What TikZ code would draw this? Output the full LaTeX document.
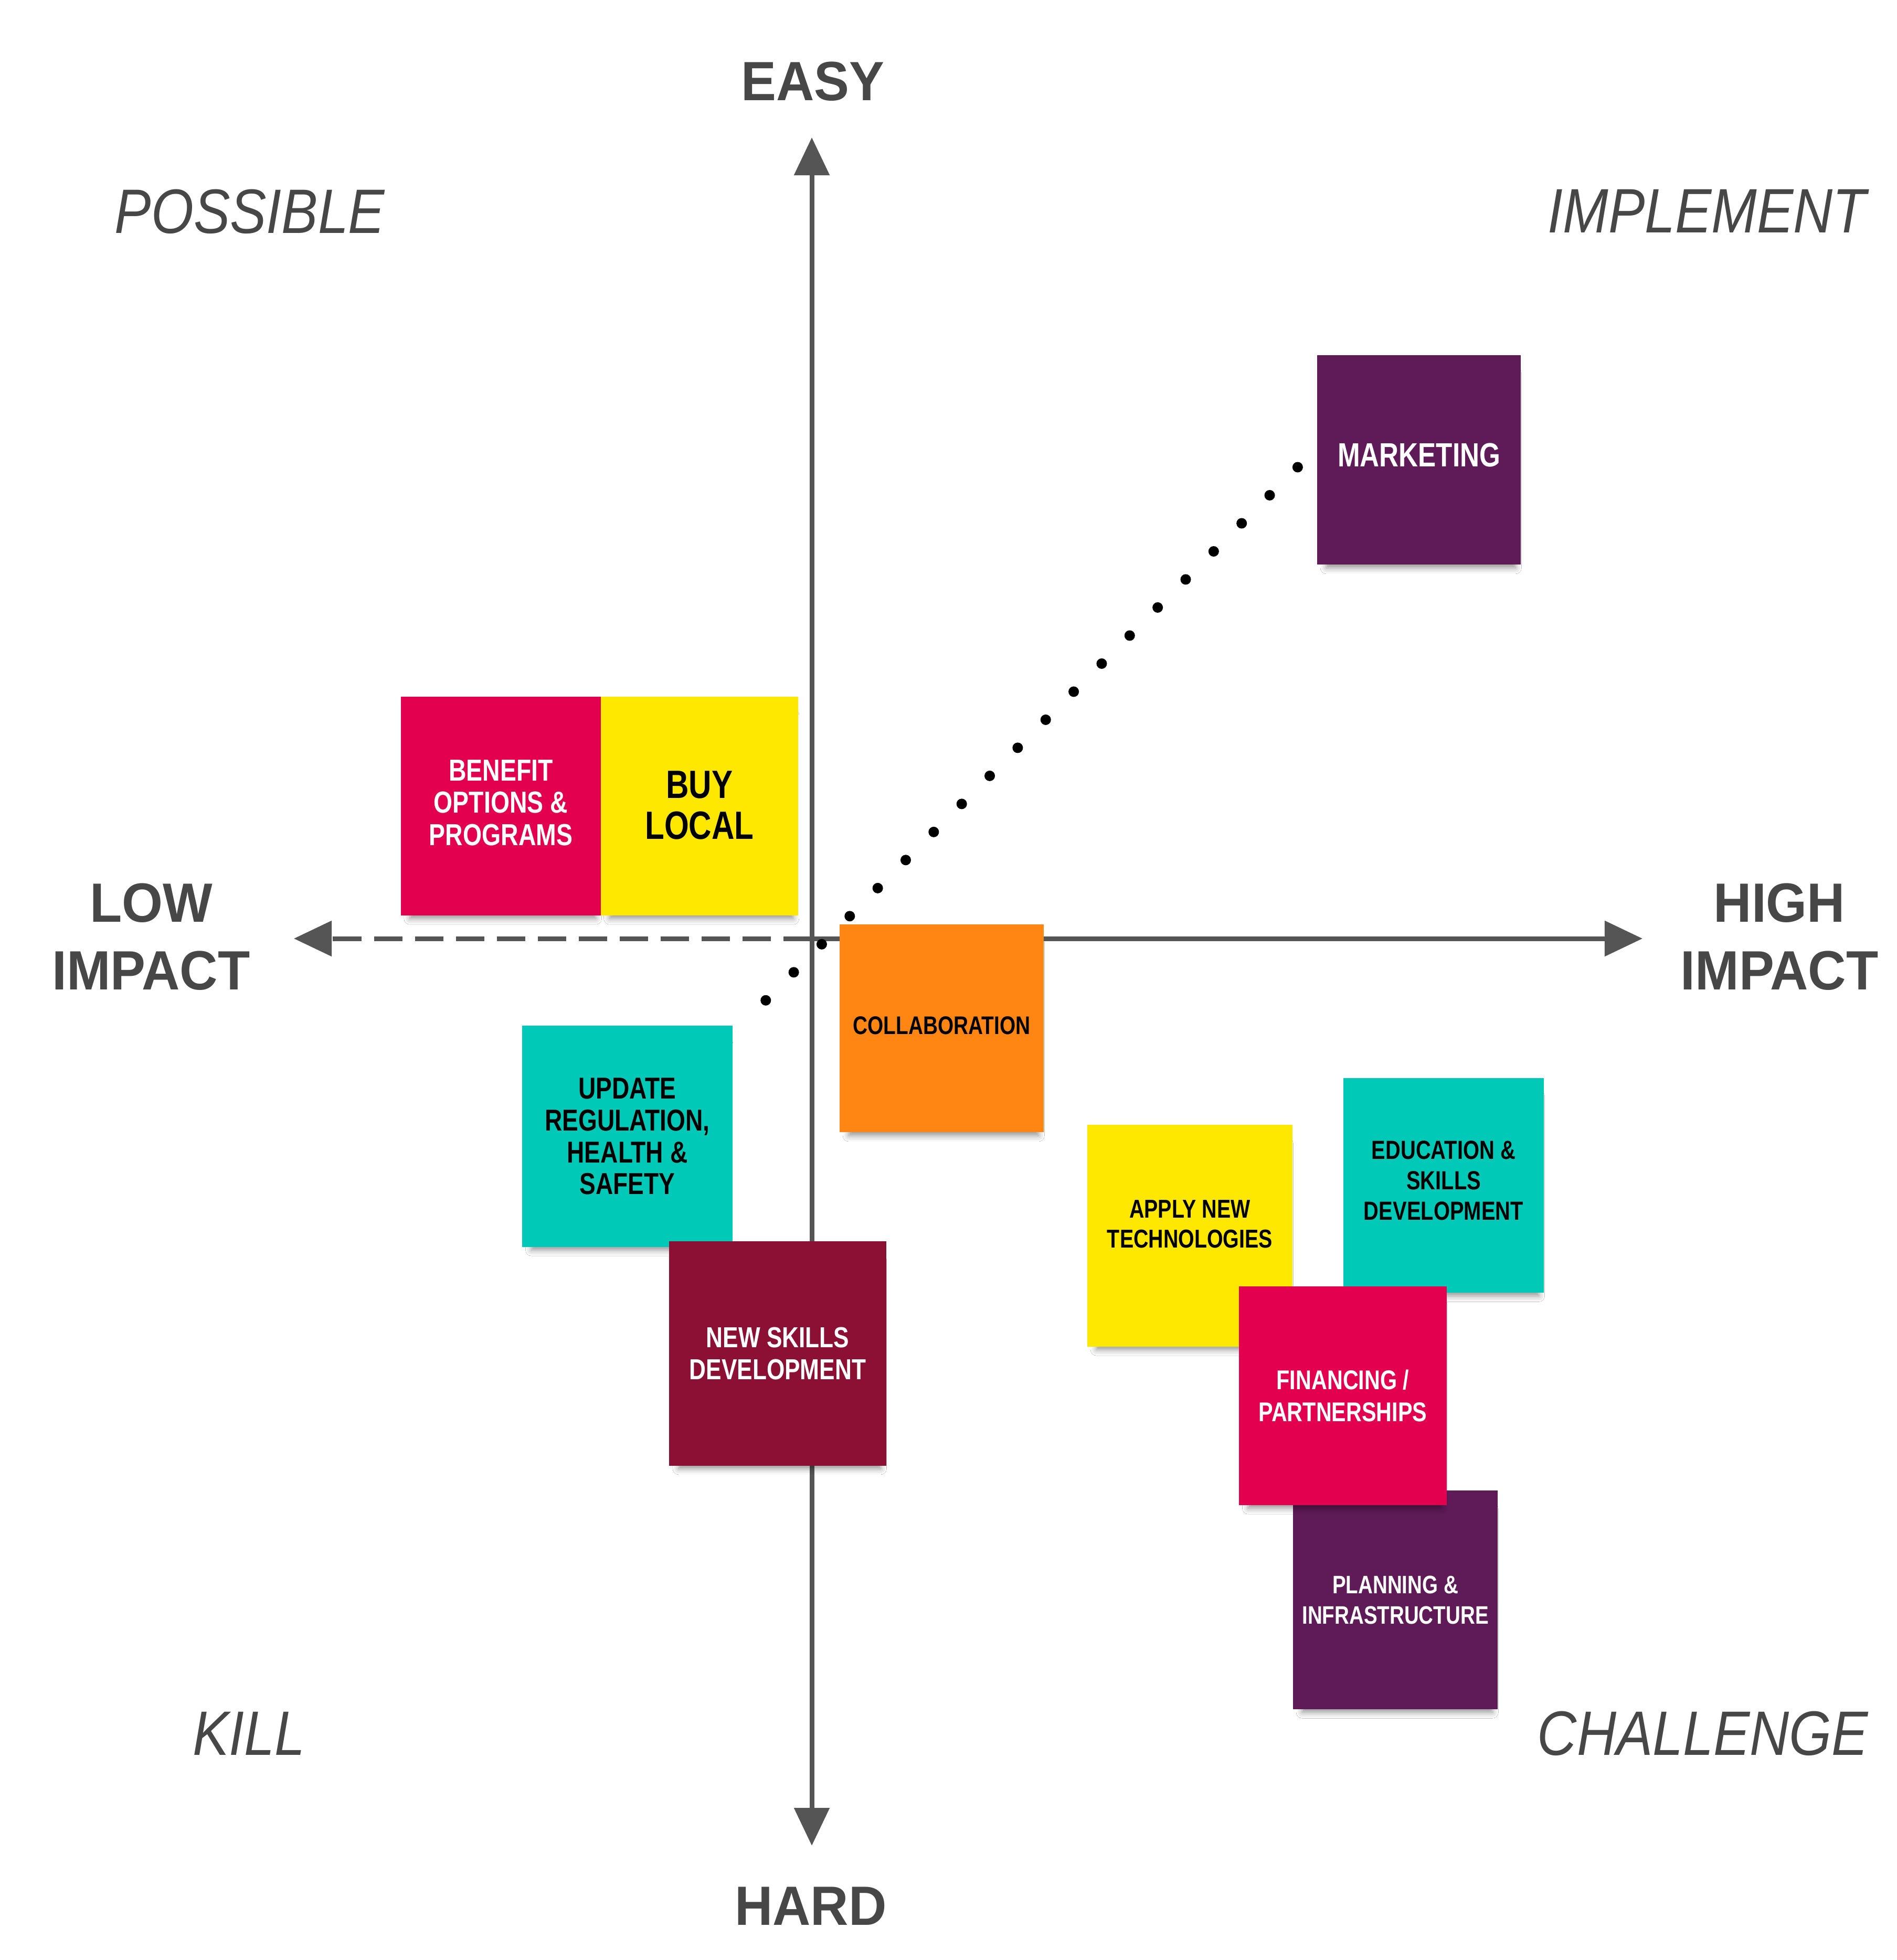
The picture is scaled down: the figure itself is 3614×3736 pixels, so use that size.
\documentclass[tikz,border=0pt]{standalone}
\usepackage{fontspec}
\setmainfont{Liberation Sans}
\newfontfamily\notefont[FakeStretch=0.8]{Liberation Sans}
\newfontfamily\axisfont[FakeStretch=0.95]{Liberation Sans}
\newfontfamily\zonefont[FakeStretch=0.87]{Liberation Sans}
\usetikzlibrary{arrows.meta,shadows.blur}
\definecolor{axisgray}{HTML}{555555}
\definecolor{labelgray}{HTML}{474747}
\definecolor{notepurple}{HTML}{5F1B58}
\definecolor{notered}{HTML}{E3004F}
\definecolor{noteyellow}{HTML}{FFE800}
\definecolor{noteorange}{HTML}{FF8613}
\definecolor{noteteal}{HTML}{00C9B7}
\definecolor{notemaroon}{HTML}{8B1034}

\begin{document}
\begin{tikzpicture}[x=0.01cm,y=-0.01cm,
    axis/.style={line width=0.09cm,draw=axisgray,-{Triangle[length=0.72cm,width=0.66cm]}},
    note/.style={rectangle,inner sep=0pt,outer sep=0pt,align=center,
        blur shadow={shadow xshift=0.04cm,shadow yshift=-0.22cm,shadow scale=0.93,shadow blur radius=0.12cm,shadow opacity=42}},
    notetext/.style 2 args={font={\notefont\bfseries\fontsize{#1}{#2}\selectfont}},
    axislabel/.style={text=labelgray,align=center,font={\axisfont\bfseries\fontsize{30pt}{36.7pt}\selectfont}},
    zone/.style={text=labelgray,anchor=base,font={\zonefont\itshape\fontsize{34pt}{40pt}\selectfont}}]
        \path [use as bounding box,fill=white] (0,0) rectangle (3614,3736);
        % axes
        \coordinate (origin) at (1547,1789);
        \coordinate (easytip) at (1547,262);
        \coordinate (hardtip) at (1547,3518);
        \coordinate (lowtip) at (560,1789);
        \coordinate (hightip) at (3130,1789);
        \draw [axis] (origin) -- (easytip);
        \draw [axis] (origin) -- (hardtip);
        \draw [axis] (origin) -- (hightip);
        \draw [axis,dash pattern=on 0.54cm off 0.24cm] (origin) -- (lowtip);
        \node [axislabel,anchor=base] (easy) at (1549,191) {EASY};
        \node [axislabel,anchor=base] (hard) at (1545,3669) {HARD};
        \node [axislabel] (low) at (288,1786) {LOW\\IMPACT};
        \node [axislabel] (high) at (3391,1786) {HIGH\\IMPACT};
        \node [zone] (possible) at (476,444) {POSSIBLE};
        \node [zone] (implement) at (3253,443) {IMPLEMENT};
        \node [zone] (kill) at (474,3345) {KILL};
        \node [zone] (challenge) at (3245,3345) {CHALLENGE};
        % notes
        \node [note,fill=notepurple,text=white,minimum width=3.88cm,minimum height=3.99cm,text depth=0.19cm,notetext={18.2pt}{20pt}] (mkt) at (2704,876.5) {MARKETING};
        \node [note,fill=notered,text=white,minimum width=3.81cm,minimum height=4.17cm,text depth=0.13cm,notetext={16.5pt}{17.5pt}] (benefit) at (954.5,1536.5) {BENEFIT\\OPTIONS \&\\PROGRAMS};
        \node [note,fill=noteyellow,text=black,minimum width=3.76cm,minimum height=4.17cm,text depth=0.04cm,notetext={21.4pt}{22.2pt}] (buylocal) at (1333,1536.5) {BUY\\LOCAL};
        \node [note,fill=noteorange,text=black,minimum width=3.89cm,minimum height=3.96cm,text depth=0.1cm,notetext={13.8pt}{16pt}] (collab) at (1794.5,1960) {COLLABORATION};
        \node [note,fill=noteteal,text=black,minimum width=4.01cm,minimum height=4.22cm,notetext={16.4pt}{17.3pt}] (update) at (1195.5,2166) {UPDATE\\REGULATION,\\HEALTH \&\\SAFETY};
        \node [note,fill=notemaroon,text=white,minimum width=4.14cm,minimum height=4.28cm,notetext={15.7pt}{17.6pt}] (newskills) at (1482,2580) {NEW SKILLS\\DEVELOPMENT};
        \node [note,fill=noteyellow,text=black,minimum width=3.91cm,minimum height=4.23cm,text depth=0.44cm,notetext={14pt}{16.2pt}] (apply) at (2267.5,2355.5) {APPLY NEW\\TECHNOLOGIES};
        \node [note,fill=noteteal,text=black,minimum width=3.82cm,minimum height=4.09cm,text depth=0.19cm,notetext={14.2pt}{16.6pt}] (educ) at (2751,2259.5) {EDUCATION \&\\SKILLS\\DEVELOPMENT};
        \node [note,fill=notepurple,text=white,minimum width=3.90cm,minimum height=4.17cm,notetext={13.7pt}{16.5pt}] (planning) at (2659,3049.5) {PLANNING \&\\INFRASTRUCTURE};
        \node [note,fill=notered,text=white,minimum width=3.96cm,minimum height=4.17cm,notetext={14.7pt}{17.4pt}] (finance) at (2559,2660.5) {FINANCING /\\PARTNERSHIPS};
        % dotted trend line
        \coordinate (dotstart) at (1459,1907);
        \coordinate (dotend) at ([xshift=-0.37cm,yshift=-0.14cm]mkt.west);
        \draw [line width=0.2cm,line cap=round,dash pattern=on 0pt off 0.755cm] (dotend) -- (dotstart);
    \end{tikzpicture}
\end{document}
